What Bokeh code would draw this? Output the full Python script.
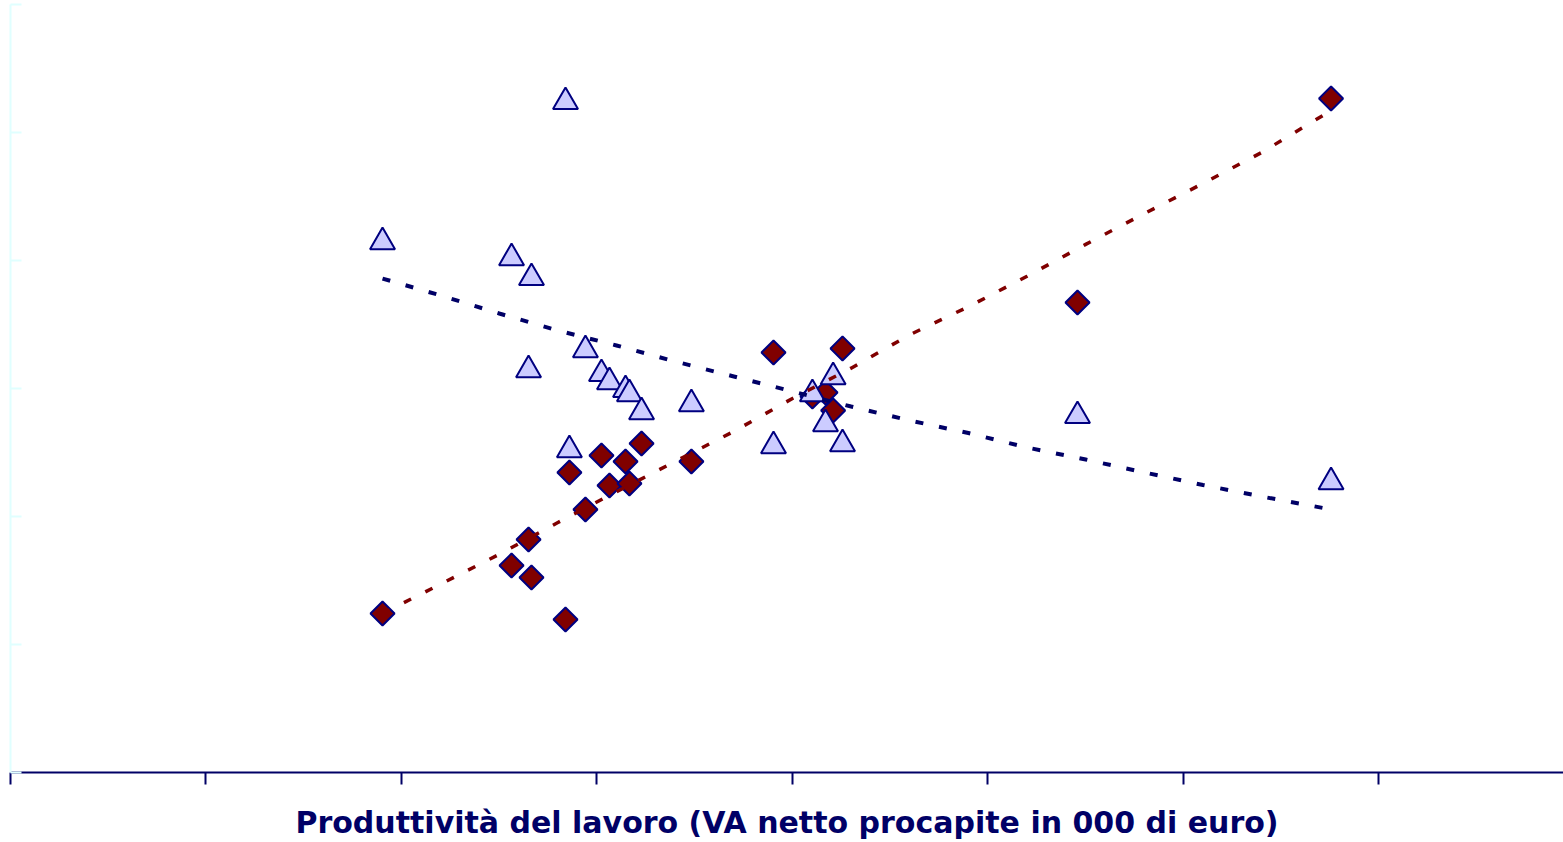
import math
from bokeh.plotting import figure
from bokeh.models import Range1d, FixedTicker, ColumnDataSource, CustomJSTickFormatter
from bokeh.embed import file_html
from bokeh.resources import INLINE

# Productivity (x) shared by both series
productivity = [19.03, 25.63, 26.50, 26.65, 28.39, 28.59, 29.41, 30.23, 30.64, 31.46,
                31.66, 32.28, 34.83, 39.03, 41.02, 41.69, 42.08, 42.56, 54.58, 67.55]
# Triangle series
series_tri = [41.45, 40.20, 31.45, 38.64, 52.39, 25.20, 33.01, 31.14, 30.51, 29.89,
              29.57, 28.17, 28.79, 25.51, 29.57, 27.23, 30.90, 25.67, 27.86, 22.70]
# Diamond series
series_dia = [12.42, 16.17, 18.20, 15.23, 11.95, 23.44, 20.55, 24.77, 22.42, 24.30,
              22.58, 25.70, 24.30, 32.81, 29.38, 29.69, 28.28, 33.13, 36.72, 52.66]

# Trend lines
trend_x = [19.03, 22, 25, 28, 31, 34, 37, 40, 43, 46, 49, 52, 55, 58, 61, 64, 67.55]
trend_tri = [38.59, 37.27, 35.86, 34.53, 33.36, 32.11, 30.94, 29.77, 28.59, 27.50,
             26.52, 25.39, 24.45, 23.44, 22.46, 21.56, 20.55]
trend_dia = [12.42, 14.72, 17.05, 19.53, 21.94, 24.30, 26.65, 29.22, 31.59, 34.20,
             36.39, 38.77, 41.26, 43.67, 46.02, 48.44, 51.72]

x_ticks = [0, 10, 20, 30, 40, 50, 60, 70]
y_ticks = [0, 10, 20, 30, 40, 50, 60]
x_label = "Produttività del lavoro (VA netto procapite in 000 di euro)"

NAVY = "#000066"
MAROON = "#800000"
LAVENDER = "#CCCCFF"

p = figure(width=1563, height=842, output_backend="svg", toolbar_location=None,
           x_range=Range1d(0, 79.44), y_range=Range1d(0, 60),
           min_border_left=10, min_border_right=0, min_border_top=4, min_border_bottom=70)
p.outline_line_color = None
p.xgrid.visible = False
p.ygrid.visible = False
p.background_fill_color = "white"

src = ColumnDataSource(dict(x=productivity, t=series_tri, d=series_dia))

p.scatter("x", "d", source=src, marker="square", angle=math.pi / 4, size=17,
          fill_color=MAROON, line_color="#000080", line_width=2)
p.scatter("x", "t", source=src, marker="triangle", size=25,
          fill_color=LAVENDER, line_color="#000080", line_width=2)

p.line(trend_x, trend_tri, line_color=NAVY, line_width=4, line_dash="8 16")
p.line(trend_x, trend_dia, line_color=MAROON, line_width=3.5, line_dash="8 16")

blank = CustomJSTickFormatter(code="return ''")

xa = p.xaxis[0]
xa.ticker = FixedTicker(ticks=x_ticks)
xa.formatter = blank
xa.axis_line_color = NAVY
xa.axis_line_width = 2
xa.major_tick_line_color = NAVY
xa.major_tick_line_width = 2
xa.major_tick_out = 12
xa.major_tick_in = 0
xa.minor_tick_line_color = None
xa.major_label_standoff = 0
xa.axis_label = x_label
xa.axis_label_text_font = "DejaVu Sans"
xa.axis_label_text_font_style = "bold"
xa.axis_label_text_font_size = "30px"
xa.axis_label_text_color = NAVY
xa.axis_label_standoff = 20

ya = p.yaxis[0]
ya.ticker = FixedTicker(ticks=y_ticks)
ya.formatter = blank
ya.axis_line_color = "#E0FFFF"
ya.axis_line_width = 2
ya.major_tick_line_color = "#E0FFFF"
ya.major_tick_line_width = 2
ya.major_tick_in = 11
ya.major_tick_out = 0
ya.minor_tick_line_color = None
ya.major_label_standoff = 0

open("out.html", "w").write(file_html(p, INLINE))
